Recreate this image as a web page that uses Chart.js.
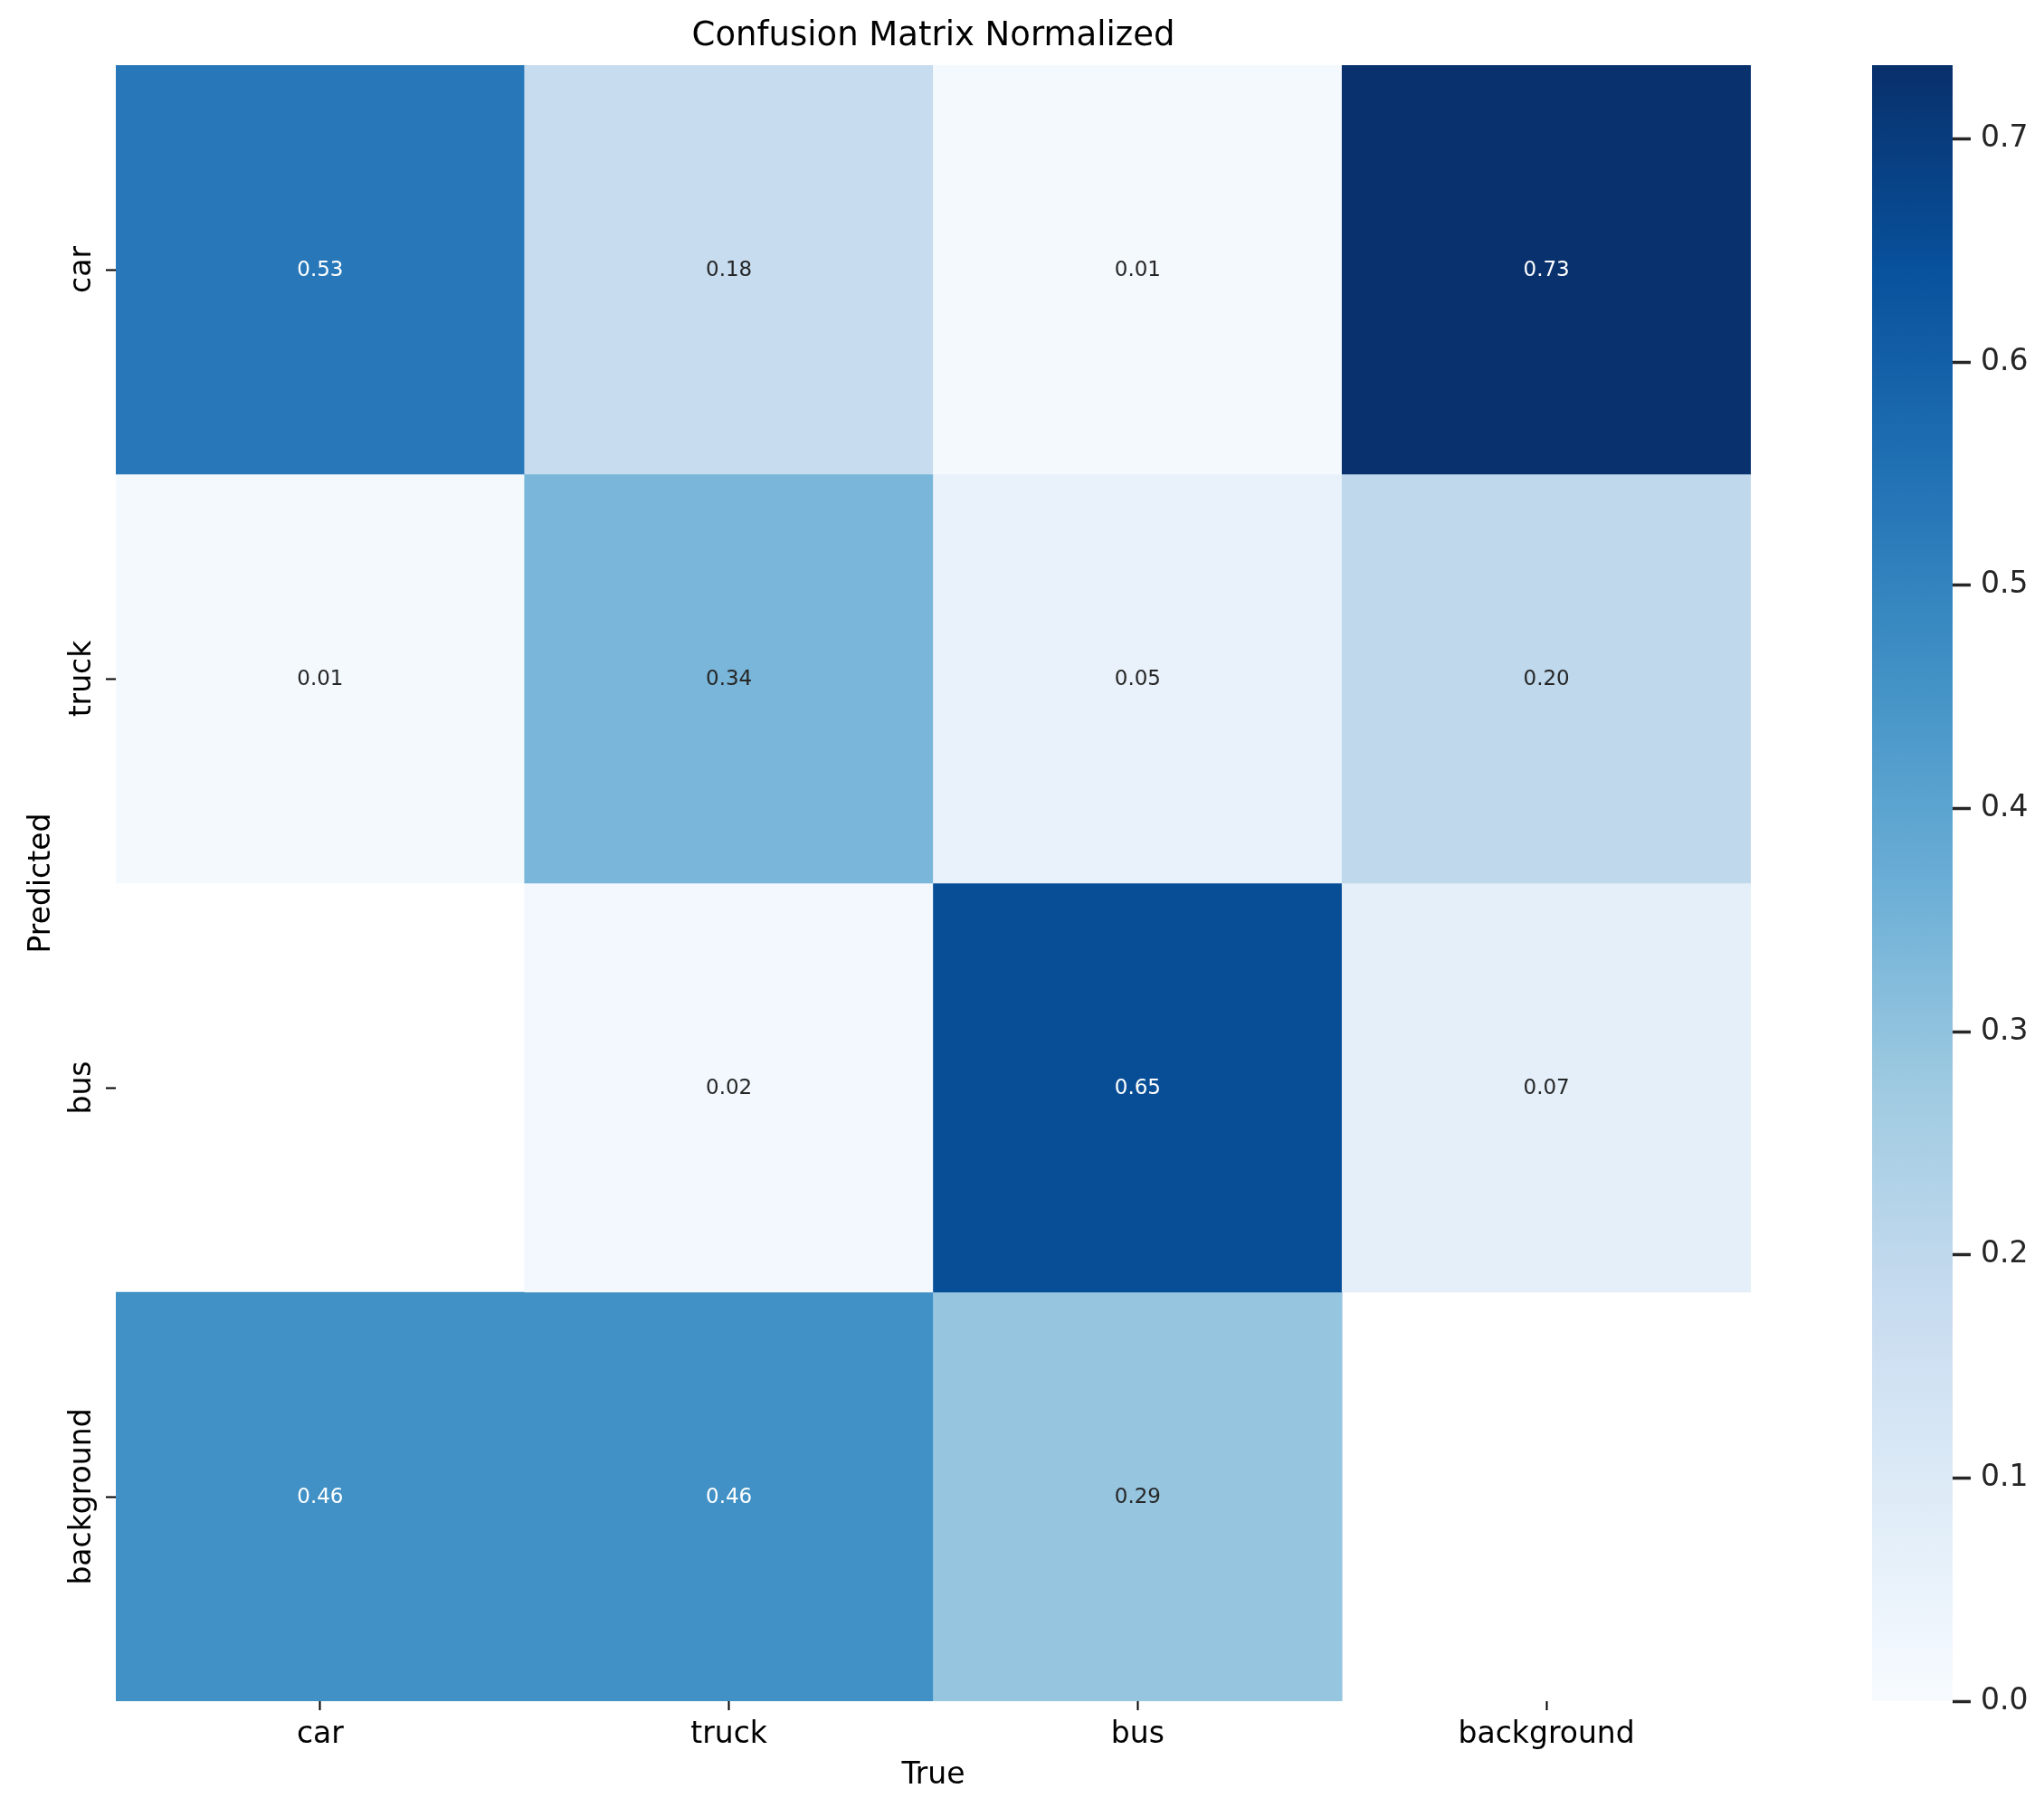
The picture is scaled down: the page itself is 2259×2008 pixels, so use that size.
<!DOCTYPE html>
<html>
<head>
<meta charset="utf-8">
<script src="https://cdn.jsdelivr.net/npm/chart.js@4.4.1/dist/chart.umd.min.js"></script>
<style>
  html, body { margin: 0; padding: 0; background: #fff; }
  #wrap { position: relative; width: 2259px; height: 2008px; }
  #main { position: absolute; left: 0; top: 0; width: 2000px; height: 2008px; }
  #bar { position: absolute; left: 2000px; top: 0; width: 259px; height: 2008px; }
</style>
</head>
<body>
<div id="wrap">
  <div id="main"><canvas id="heat"></canvas></div>
  <div id="bar"><canvas id="cbar"></canvas></div>
</div>
<script>
const trueLabels = ["car", "truck", "bus", "background"];
const predLabels = ["car", "truck", "bus", "background"];

// one array per predicted row, columns follow trueLabels (null = empty cell)
const rowCar = [0.53, 0.18, 0.01, 0.73];
const rowTruck = [0.01, 0.34, 0.05, 0.20];
const rowBus = [null, 0.02, 0.65, 0.07];
const rowBackground = [0.46, 0.46, 0.29, null];
const rows = [rowCar, rowTruck, rowBus, rowBackground];

const VMAX = 0.733; // top of the colour bar

const FONT = "DejaVu Sans";

// matplotlib "Blues" anchors
const BLUES = [
  [247, 251, 255], [222, 235, 247], [198, 219, 239], [158, 202, 225],
  [107, 174, 214], [66, 146, 198], [33, 113, 181], [8, 81, 156], [8, 48, 107]
];

function blues(t) {
  t = Math.max(0, Math.min(1, t));
  const p = t * 8;
  const i = Math.min(7, Math.floor(p));
  const f = p - i;
  const a = BLUES[i], b = BLUES[i + 1];
  return a.map((c, k) => c + (b[k] - c) * f);
}

function rgb(c) {
  return "rgb(" + c.map(Math.round).join(",") + ")";
}

function lum(c) {
  const l = c.map(v => {
    v /= 255;
    return v <= 0.03928 ? v / 12.92 : Math.pow((v + 0.055) / 1.055, 2.4);
  });
  return 0.2126 * l[0] + 0.7152 * l[1] + 0.0722 * l[2];
}

const heatText = {
  id: "heatText",
  afterDatasetsDraw(chart) {
    const { ctx, scales: { x, y } } = chart;
    ctx.save();
    ctx.textAlign = "center";
    ctx.textBaseline = "middle";
    ctx.font = "23px '" + FONT + "'";
    rows.forEach((row, i) => {
      row.forEach((v, j) => {
        if (v === null) return;
        ctx.fillStyle = lum(blues(v / VMAX)) > 0.408 ? "#262626" : "#ffffff";
        ctx.fillText(v.toFixed(2), x.getPixelForValue(j), y.getPixelForValue(i + 0.5) + 1);
      });
    });
    ctx.restore();
  },
  afterDraw(chart) {
    const { ctx, chartArea, scales: { y } } = chart;
    ctx.save();
    // rotated row labels
    ctx.fillStyle = "#000";
    ctx.font = "33px '" + FONT + "'";
    ctx.textAlign = "center";
    ctx.textBaseline = "alphabetic";
    y.ticks.forEach((t, i) => {
      ctx.save();
      ctx.translate(100, y.getPixelForValue(t.value));
      ctx.rotate(-Math.PI / 2);
      ctx.fillText(predLabels[i], 0, 0);
      ctx.restore();
    });
    // title over the heatmap
    ctx.font = "37px '" + FONT + "'";
    ctx.textBaseline = "middle";
    ctx.fillText("Confusion Matrix Normalized", (chartArea.left + chartArea.right) / 2, 40);
    ctx.restore();
  }
};

new Chart(document.getElementById("heat"), {
  type: "bar",
  data: {
    labels: trueLabels,
    datasets: rows.map((row, i) => ({
      label: predLabels[i],
      data: row.map(v => (v === null ? null : [i, i + 1])),
      backgroundColor: row.map(v => (v === null ? "rgba(0,0,0,0)" : rgb(blues(v / VMAX)))),
      borderWidth: 0,
      grouped: false,
      barPercentage: 1,
      categoryPercentage: 1
    }))
  },
  options: {
    responsive: true,
    maintainAspectRatio: false,
    animation: false,
    events: [],
    layout: { padding: { top: 72, right: 65, bottom: 0, left: 0 } },
    plugins: {
      legend: { display: false },
      tooltip: { enabled: false }
    },
    scales: {
      x: {
        type: "category",
        afterFit: s => { s.height = 128; },
        border: { display: false },
        grid: { offset: false, drawOnChartArea: false, tickLength: 10, tickWidth: 2, tickColor: "#000" },
        ticks: { padding: 8, color: "#000", font: { family: FONT, size: 33 } },
        title: { display: true, text: "True", color: "#000", font: { family: FONT, size: 33 }, padding: { bottom: 26 } }
      },
      y: {
        type: "linear",
        min: 0,
        max: 4,
        reverse: true,
        afterBuildTicks: s => { s.ticks = predLabels.map((_, i) => ({ value: i + 0.5 })); },
        afterFit: s => { s.width = 128; },
        border: { display: false },
        grid: { drawOnChartArea: false, tickLength: 11, tickWidth: 2, tickColor: "#000" },
        ticks: { display: false },
        title: { display: true, text: "Predicted", color: "#000", font: { family: FONT, size: 33 }, padding: { top: 27 } }
      }
    }
  },
  plugins: [heatText]
});

new Chart(document.getElementById("cbar"), {
  type: "bar",
  data: {
    labels: [""],
    datasets: [{
      data: [[0, VMAX]],
      borderWidth: 0,
      barPercentage: 1,
      categoryPercentage: 1,
      backgroundColor: c => {
        const chart = c.chart;
        if (!chart.chartArea) return rgb(blues(0.5));
        const ys = chart.scales.y;
        const g = chart.ctx.createLinearGradient(0, ys.getPixelForValue(0), 0, ys.getPixelForValue(VMAX));
        BLUES.forEach((col, k) => g.addColorStop(k / 8, rgb(col)));
        return g;
      }
    }]
  },
  options: {
    responsive: true,
    maintainAspectRatio: false,
    animation: false,
    events: [],
    layout: { padding: { top: 72, right: 0, bottom: 128, left: 69 } },
    plugins: {
      legend: { display: false },
      tooltip: { enabled: false }
    },
    scales: {
      x: { display: false },
      y: {
        position: "right",
        min: 0,
        max: VMAX,
        afterFit: s => { s.width = 101; },
        border: { display: false },
        grid: { drawOnChartArea: false, tickLength: 20, tickWidth: 3.5, tickColor: "#262626" },
        ticks: {
          stepSize: 0.1,
          includeBounds: false,
          padding: 11,
          color: "#262626",
          font: { family: FONT, size: 33 },
          callback: v => v.toFixed(1)
        }
      }
    }
  }
});
</script>
</body>
</html>
